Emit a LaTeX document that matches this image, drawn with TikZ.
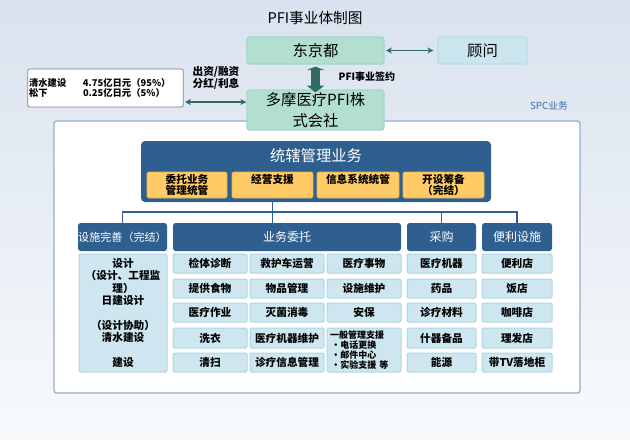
\documentclass[tikz,border=0pt]{standalone}
\usepackage{fontspec}
\newfontfamily\cjk{Noto Sans CJK SC}
\usetikzlibrary{arrows.meta}
\definecolor{bgtop}{HTML}{D9E2EE}
\definecolor{bgbot}{HTML}{F8FAFC}
\definecolor{mint}{HTML}{B3DFD2}
\definecolor{mintline}{HTML}{A3D8C6}
\definecolor{skyfill}{HTML}{CBE5EE}
\definecolor{skyline}{HTML}{B9DCE7}
\definecolor{arrowteal}{HTML}{2F6B62}
\definecolor{navy}{HTML}{2F5F8E}
\definecolor{gold}{HTML}{FFCB66}
\definecolor{goldline}{HTML}{E8B24E}
\definecolor{cellfill}{HTML}{CDE6F0}
\definecolor{cellline}{HTML}{B3D5E2}
\definecolor{panelline}{HTML}{96AECB}
\definecolor{spcblue}{HTML}{3A6DA8}
\def\px{0.75pt}
\tikzset{
  greenbox/.style={draw=mintline, fill=mint, line width=1pt, rounded corners=2pt, inner sep=0pt, align=center, font=\cjk\fontsize{11.5}{12}\selectfont},
  bluebox/.style={greenbox, draw=skyline, fill=skyfill},
  header/.style={fill=navy, rounded corners=2pt, inner sep=0pt, text=white, minimum height=28*\px, font=\cjk\fontsize{9}{10}\selectfont},
  goldbox/.style={fill=gold, draw=goldline, line width=0.5pt, rounded corners=1.5pt, inner sep=0pt, align=center, minimum height=26*\px, font=\cjk\bfseries\fontsize{8}{8.5}\selectfont},
  cell/.style={fill=cellfill, draw=cellline, line width=0.75pt, rounded corners=1pt, inner sep=0pt, minimum height=19*\px, font=\cjk\bfseries\fontsize{8}{9}\selectfont},
  link/.style={draw=navy, line width=1.1pt},
  twoway/.style={draw=arrowteal, line width=1.2pt, {Stealth[length=4.5pt,width=4.5pt]}-{Stealth[length=4.5pt,width=4.5pt]}},
}
\begin{document}
\begin{tikzpicture}[x=0.75pt,y=-0.75pt]
		%%%%% BACKGROUND %%%%%
		\shade[top color=bgtop, bottom color=bgbot] (0,0) rectangle (630,439);
		\node[font=\cjk\fontsize{11}{12}\selectfont] (title) at (315,18) {PFI事业体制图};
		
		\node[draw=panelline, fill=white, line width=1pt, rounded corners=2pt, inner sep=0pt, minimum width=526*\px, minimum height=272*\px] (spc) at (317,257) {};
		\node[text=spcblue, font=\cjk\fontsize{7.3}{8}\selectfont] (spclabel) at (549,106) {SPC业务};
		
		%%%%% TOP %%%%%
		\node[greenbox, minimum width=137*\px, minimum height=27*\px] (tokyo) at (315.5,50.5) {东京都};
		\node[bluebox, minimum width=89*\px, minimum height=27*\px] (advisor) at (482.5,50.5) {顾问};
		\node[greenbox, minimum width=137*\px, minimum height=40*\px, font=\cjk\fontsize{11.5}{16}\selectfont] (tama) at (315.5,110) {多摩医疗PFI株\\式会社};
		
		\draw[twoway, shorten <=1pt, shorten >=3pt] (tokyo.east) -- (advisor.west);
		\draw[draw=arrowteal, line width=6.75pt, {Triangle[width=13pt,length=2.5pt]}-{Triangle[width=13pt,length=5pt]}] ([yshift=-2*\px]tokyo.south) -- ([yshift=-3*\px]tama.north);
		\node[anchor=west, font=\cjk\bfseries\fontsize{7.5}{8}\selectfont] (contract) at (334,77) {PFI事业签约};
		
		\node[draw=black!50, fill=white, line width=0.6pt, rounded corners=1.5pt, inner xsep=1pt, inner ysep=0pt, minimum height=38*\px, text width=153*\px, align=left, font=\cjk\bfseries\fontsize{7}{6.9}\selectfont] (invest) at (105.5,88) {\makebox[40.5pt][l]{清水建设}4.75亿日元（95\%）\\\makebox[40.5pt][l]{松下}0.25亿日元（5\%）};
		\node[align=center, font=\cjk\bfseries\fontsize{8}{9}\selectfont] (funds) at (216,78) {出资/融资\\分红/利息};
		\coordinate (fundlink) at (185,102);
		\draw[twoway] (fundlink) -- (fundlink -| tama.west);
		
		%%%%% MANAGEMENT %%%%%
		\node[fill=navy, rounded corners=3pt, inner sep=0pt, minimum width=350*\px, minimum height=61*\px] (mgmt) at (316,171.5) {};
		\node[text=white, font=\cjk\fontsize{11.5}{12}\selectfont] (mgmttitle) at (316,156) {统辖管理业务};
		\node[goldbox, minimum width=80*\px] (gold1) at (187,185) {委托业务\\管理统管};
		\node[goldbox, minimum width=81*\px] (gold2) at (272.5,185) {经营支援\\\mbox{}};
		\node[goldbox, minimum width=82*\px] (gold3) at (358,185) {信息系统统管\\\mbox{}};
		\node[goldbox, minimum width=81*\px] (gold4) at (443.5,185) {开设筹备\\（完结）};
		
		%%%%% HEADERS %%%%%
		\node[header, minimum width=89*\px, font=\cjk\fontsize{8.3}{9}\selectfont] (facil) at (122.5,237) {设施完善（完结）};
		\node[header, minimum width=228*\px] (biz) at (287,237) {业务委托};
		\node[header, minimum width=69*\px] (purch) at (441.5,237) {采购};
		\node[header, minimum width=70*\px] (conv) at (517,237) {便利设施};
		
		\coordinate (split) at (273,212);
		\draw[link] (gold2.south |- mgmt.south) -- (gold2.south |- biz.north);
		\draw[link] (facil.north) -- (facil.north |- split) -- (conv.north |- split) -- (conv.north);
		\draw[link] (purch.north |- split) -- (purch.north);
		
		%%%%% CELLS %%%%%
		\node[cell, minimum width=88*\px, minimum height=118*\px, align=center, font=\cjk\bfseries\fontsize{8}{9.3}\selectfont] (facilcell) at (123,313) {设计\\（设计、工程监\\理）\\日建设计\\[9.3pt]（设计协助）\\清水建设\\[9.3pt]建设};
		
		\node[cell, minimum width=74*\px] (b11) at (210,263.5) {检体诊断};
		\node[cell, minimum width=74*\px] (b12) at (210,288.5) {提供食物};
		\node[cell, minimum width=74*\px] (b13) at (210,312.5) {医疗作业};
		\node[cell, minimum width=74*\px, minimum height=20*\px] (b14) at (210,338) {洗衣};
		\node[cell, minimum width=74*\px] (b15) at (210,362.5) {清扫};
		
		\node[cell, minimum width=74*\px] (b21) at (287,263.5) {救护车运营};
		\node[cell, minimum width=74*\px] (b22) at (287,288.5) {物品管理};
		\node[cell, minimum width=74*\px] (b23) at (287,312.5) {灭菌消毒};
		\node[cell, minimum width=74*\px, minimum height=20*\px] (b24) at (287,338) {医疗机器维护};
		\node[cell, minimum width=74*\px] (b25) at (287,362.5) {诊疗信息管理};
		
		\node[cell, minimum width=74*\px] (b31) at (364,263.5) {医疗事物};
		\node[cell, minimum width=74*\px] (b32) at (364,288.5) {设施维护};
		\node[cell, minimum width=74*\px] (b33) at (364,312.5) {安保};
		\node[cell, minimum width=74*\px, minimum height=44*\px, text width=51pt, align=left, font=\cjk\bfseries\fontsize{6.75}{7.5}\selectfont] (bmisc) at (364,350) {一般管理支援\\\hspace*{1pt}·电话更换\\\hspace*{1pt}·邮件中心\\\hspace*{1pt}·实验支援 等};
		
		\node[cell, minimum width=69*\px] (p1) at (441.5,263.5) {医疗机器};
		\node[cell, minimum width=69*\px] (p2) at (441.5,288.5) {药品};
		\node[cell, minimum width=69*\px] (p3) at (441.5,312.5) {诊疗材料};
		\node[cell, minimum width=69*\px, minimum height=20*\px] (p4) at (441.5,338) {什器备品};
		\node[cell, minimum width=69*\px] (p5) at (441.5,362.5) {能源};
		
		\node[cell, minimum width=70*\px] (v1) at (517,263.5) {便利店};
		\node[cell, minimum width=70*\px] (v2) at (517,288.5) {饭店};
		\node[cell, minimum width=70*\px] (v3) at (517,312.5) {咖啡店};
		\node[cell, minimum width=70*\px, minimum height=20*\px] (v4) at (517,338) {理发店};
		\node[cell, minimum width=70*\px] (v5) at (517,362.5) {带TV落地柜};
		
		%%%%% END %%%%%
	\end{tikzpicture}
\end{document}
